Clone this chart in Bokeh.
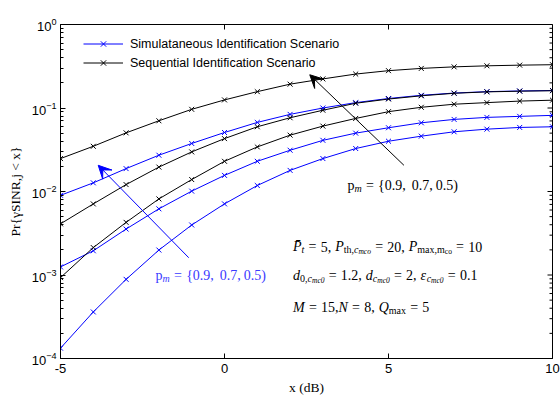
import math
from bokeh.plotting import figure
from bokeh.models import (FixedTicker, Label, Arrow, VeeHead, Legend, LegendItem, Range1d)
from bokeh.embed import file_html
from bokeh.resources import INLINE

# ---------------- data ----------------
x_db = [-5, -4, -3, -2, -1, 0, 1, 2, 3, 4, 5, 6, 7, 8, 9, 10]

# Simultaneous identification scenario (blue)
sim_pm05 = [0.0090, 0.0127, 0.0188, 0.0272, 0.0376, 0.0509, 0.0672, 0.0839,
            0.100, 0.116, 0.130, 0.142, 0.151, 0.157, 0.160, 0.162]
sim_pm07 = [0.00125, 0.00195, 0.00355, 0.0062, 0.0101, 0.0156, 0.023, 0.0312,
            0.041, 0.050, 0.058, 0.0665, 0.073, 0.0772, 0.0794, 0.0816]
sim_pm09 = [0.000133, 0.000361, 0.000887, 0.00199, 0.00397, 0.00711, 0.0118, 0.0179,
            0.0248, 0.0327, 0.040, 0.046, 0.0519, 0.0558, 0.0585, 0.0596]

# Sequential identification scenario (black)
seq_pm05 = [0.0248, 0.0348, 0.0504, 0.0703, 0.0964, 0.125, 0.157, 0.193,
            0.223, 0.255, 0.280, 0.298, 0.311, 0.320, 0.326, 0.330]
seq_pm07 = [0.0041, 0.0071, 0.0121, 0.0196, 0.0298, 0.043, 0.0596, 0.0764,
            0.094, 0.114, 0.128, 0.140, 0.150, 0.156, 0.159, 0.161]
seq_pm09 = [0.00093, 0.00213, 0.00427, 0.00815, 0.0139, 0.023, 0.0342, 0.0473,
            0.0607, 0.075, 0.0904, 0.102, 0.111, 0.116, 0.121, 0.124]

x_ticks = [-5, 0, 5, 10]
y_ticks = [1e-4, 1e-3, 1e-2, 1e-1, 1.0]
legend_labels = ["Simulataneous Identification Scenario", "Sequential Identification Scenario"]
x_title = "x (dB)"
y_title = "Pr{\u03b3SINR,j < x}"

BLUE = "#0000ff"
BLACK = "#000000"
SERIF = "Liberation Serif"
SANS = "Liberation Sans"

X_MIN, X_MAX = -5, 10
Y_MIN, Y_MAX = 1e-4, 1.0
W, H = 560, 397
B_LEFT, B_RIGHT, B_TOP, B_BOTTOM = 60, 8, 24, 39
PX_PER_X = (W - B_LEFT - B_RIGHT) / (X_MAX - X_MIN)
PX_PER_DECADE = (H - B_TOP - B_BOTTOM) / (math.log10(Y_MAX) - math.log10(Y_MIN))

p = figure(width=W, height=H, output_backend="svg", toolbar_location=None,
           x_range=Range1d(X_MIN, X_MAX), y_range=Range1d(Y_MIN, Y_MAX), y_axis_type="log",
           min_border_left=B_LEFT, min_border_right=B_RIGHT, min_border_top=B_TOP,
           min_border_bottom=B_BOTTOM)
p.background_fill_color = "white"
p.border_fill_color = "white"
p.outline_line_color = "black"
p.outline_line_width = 1
p.xgrid.visible = False
p.ygrid.visible = False

minor_y = [k * 10.0 ** e for e in range(-4, 0) for k in range(2, 10)]


def style_axis(ax):
    ax.axis_line_color = "black"
    ax.major_tick_in = 5
    ax.major_tick_out = 0
    ax.minor_tick_in = 3
    ax.minor_tick_out = 0
    ax.major_tick_line_color = "black"
    ax.minor_tick_line_color = "black"
    ax.major_label_text_font = SANS
    ax.major_label_text_color = "black"
    ax.major_label_text_font_size = "13px"
    ax.axis_label_text_font = SERIF
    ax.axis_label_text_font_style = "normal"
    ax.axis_label_text_font_size = "13.5px"
    ax.axis_label_text_color = "black"


xax = p.xaxis[0]
xax.ticker = FixedTicker(ticks=x_ticks, minor_ticks=[])
xax.major_label_overrides = {-5: "-5", 0: "0", 5: "5", 10: "10"}
style_axis(xax)
xax.major_label_standoff = 5
xax.axis_label = x_title
xax.axis_label_standoff = 4

yax = p.yaxis[0]
yax.ticker = FixedTicker(ticks=y_ticks, minor_ticks=minor_y)
style_axis(yax)
yax.major_label_standoff = 4
yax.axis_label = y_title
yax.axis_label_standoff = 6

# ticks on the top and right edges of the box (inner half of a dash marker, clipped by the frame)
p.scatter(x_ticks, [Y_MAX] * len(x_ticks), marker="dash", angle=math.pi / 2, size=10,
          line_color="black", line_width=1)
p.scatter([X_MAX] * len(y_ticks), y_ticks, marker="dash", size=10, line_color="black", line_width=1)
p.scatter([X_MAX] * len(minor_y), minor_y, marker="dash", size=6, line_color="black", line_width=1)

# ---------------- curves ----------------
renders = {}
for name, ys, col in [("sim05", sim_pm05, BLUE), ("sim07", sim_pm07, BLUE), ("sim09", sim_pm09, BLUE),
                      ("seq05", seq_pm05, BLACK), ("seq07", seq_pm07, BLACK), ("seq09", seq_pm09, BLACK)]:
    lr = p.line(x_db, ys, line_color=col, line_width=1)
    sr = p.scatter(x_db, ys, marker="x", size=7, line_color=col, line_width=1)
    renders[name] = (lr, sr)

legend = Legend(items=[LegendItem(label=legend_labels[0], renderers=list(renders["sim05"])),
                       LegendItem(label=legend_labels[1], renderers=list(renders["seq05"]))],
                location=(18, 281), orientation="vertical",
                border_line_alpha=0, background_fill_alpha=0,
                label_text_font=SANS, label_text_font_size="12.5px", label_text_color="black",
                glyph_width=40, glyph_height=19, label_height=19, spacing=0,
                padding=5, margin=0, label_standoff=7)
p.add_layout(legend)

# ---------------- arrows ----------------
p.add_layout(Arrow(end=VeeHead(size=13, fill_color=BLACK, line_color=BLACK),
                   x_start=5.47, y_start=0.0206, x_end=2.6, y_end=0.25,
                   line_color=BLACK, line_width=1))
p.add_layout(Arrow(end=VeeHead(size=13, fill_color=BLUE, line_color=BLUE),
                   x_start=-1.09, y_start=0.00161, x_end=-3.85, y_end=0.0206,
                   line_color=BLUE, line_width=1))

# ---------------- math-like texts ----------------
W_R = {' ': 250, ',': 250, '.': 250, '(': 333, ')': 333, '{': 480, '}': 480, '=': 564, '<': 564,
       'P': 556, 'S': 556, 'I': 333, 'N': 722, 'R': 667, 'M': 889, 'Q': 722, 'B': 667,
       'a': 444, 'b': 500, 'c': 444, 'd': 500, 'e': 444, 'h': 500, 'i': 278, 'j': 278,
       'm': 778, 'n': 500, 'o': 500, 'p': 500, 'r': 333, 't': 278, 'x': 500,
       '\u0304': 0}
W_I = {'P': 611, 'M': 833, 'N': 667, 'Q': 722, 'd': 500, 't': 278, 'm': 722, 'c': 444,
       'o': 500, 'a': 500, 'x': 444, 'j': 278, '\u03b5': 440, '\u03b3': 440, '\u0304': 0}
SIZES = {0: 14.0, 1: 10.0, 2: 7.5}
DROPS = {0: 0.0, 1: 3.0, 2: 5.0}


def text_width(txt, ital, fs):
    tbl = W_I if ital else W_R
    tot = 0
    for ch in txt:
        if ch.isdigit():
            tot += 500
        else:
            tot += tbl.get(ch, W_R.get(ch, 500))
    return tot * fs / 1000.0


def layout(segs):
    out = []
    off = 0.0
    for seg in segs:
        if seg[0] == "_gap":
            off += seg[1]
            continue
        txt, lvl, ital = seg
        fs = SIZES[lvl]
        pad = 0.3 * fs if txt in ("=", "<") else 0.0
        off += pad
        out.append((txt, lvl, ital, off))
        off += text_width(txt, ital, fs) + pad
    return out, off


def shift(x, y, dx_px, dy_px):
    """Move a data point by a screen distance (pixels, y up) using the plot's scales."""
    return x + dx_px / PX_PER_X, 10 ** (math.log10(y) + dy_px / PX_PER_DECADE)


def math_label(x, y, segs, color):
    items, total = layout(segs)
    for txt, lvl, ital, off in items:
        lx, ly = shift(x, y, off, -DROPS[lvl])
        p.add_layout(Label(x=lx, y=ly, x_units="data", y_units="data", text=txt,
                           text_font=SERIF, text_font_style="italic" if ital else "normal",
                           text_font_size=f"{SIZES[lvl]}px", text_color=color,
                           text_align="left", text_baseline="alphabetic"))


pm_segs = [("p", 0, False), ("m", 1, True), ("=", 0, False), ("{0.9,", 0, False), ("_gap", 6),
           ("0.7,", 0, False), ("_gap", 3), ("0.5)", 0, False)]
math_label(3.75, 0.0118, pm_segs, BLACK)
math_label(-2.1, 0.00100, pm_segs, "#3a3aff")

line1 = [("P\u0304", 0, True), ("t", 1, True), ("=", 0, False), ("5,", 0, False), ("_gap", 4),
         ("P", 0, True), ("th,", 1, False), ("c", 1, True), ("mco", 2, True), ("=", 0, False),
         ("20,", 0, False), ("_gap", 4),
         ("P", 0, True), ("max,m", 1, False), ("co", 2, False), ("=", 0, False), ("10", 0, False)]
line2 = [("d", 0, True), ("0,", 1, False), ("c", 1, True), ("mc0", 2, True), ("=", 0, False),
         ("1.2,", 0, False), ("_gap", 4),
         ("d", 0, True), ("c", 1, True), ("mc0", 2, True), ("=", 0, False), ("2,", 0, False), ("_gap", 4),
         ("\u03b5", 0, True), ("c", 1, True), ("mc0", 2, True), ("=", 0, False), ("0.1", 0, False)]
line3 = [("M", 0, True), ("=", 0, False), ("15,", 0, False), ("N", 0, True), ("=", 0, False),
         ("8,", 0, False), ("_gap", 4), ("Q", 0, True), ("max", 1, False), ("=", 0, False), ("5", 0, False)]
math_label(2.09, 0.00217, line1, BLACK)
math_label(2.09, 0.00100, line2, BLACK)
math_label(2.09, 0.000411, line3, BLACK)

open("out.html", "w").write(file_html(p, INLINE))
